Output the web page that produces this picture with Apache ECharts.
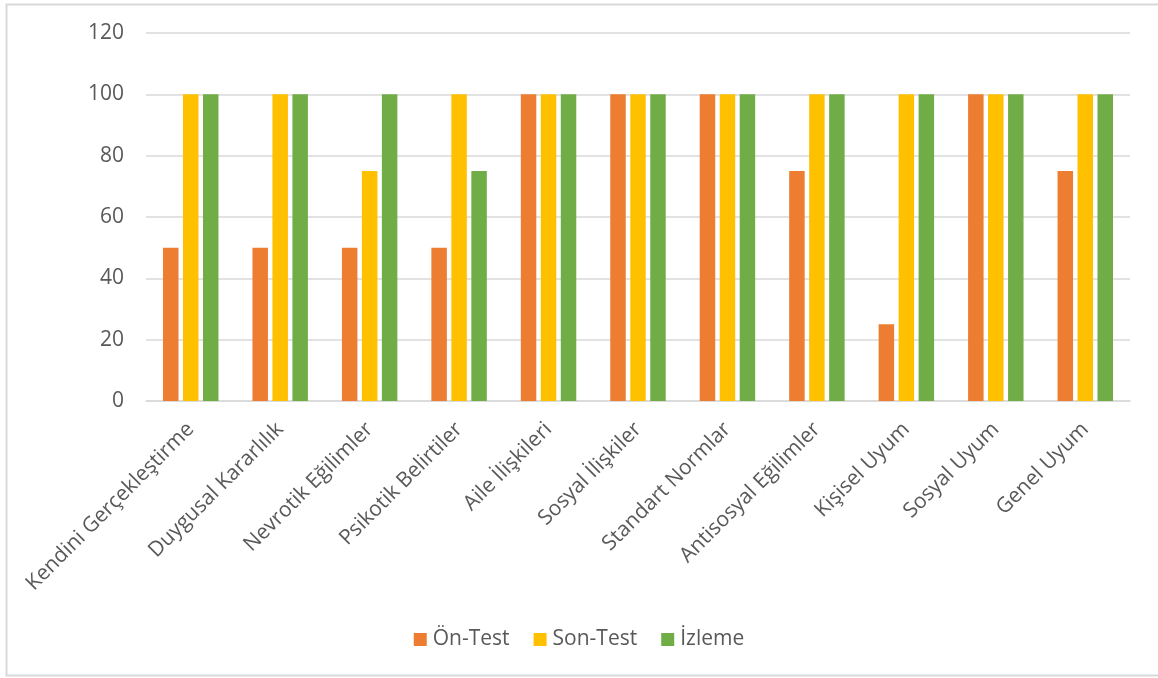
<!DOCTYPE html>
<html>
<head>
<meta charset="utf-8">
<script src="https://cdn.jsdelivr.net/npm/echarts@6/dist/echarts.min.js"></script>
<style>
  html, body { margin: 0; padding: 0; background: #ffffff; }
  #chart { width: 1158px; height: 678px; }
</style>
</head>
<body>
<div id="chart"></div>
<script>
// Scale dimensions (x axis)
const categories = [
  'Kendini Gerçekleştirme', 'Duygusal Kararlılık', 'Nevrotik Eğilimler',
  'Psikotik Belirtiler', 'Aile İlişkileri', 'Sosyal İlişkiler',
  'Standart Normlar', 'Antisosyal Eğilimler', 'Kişisel Uyum',
  'Sosyal Uyum', 'Genel Uyum'
];

// Scores per measurement
const onTest  = [50, 50, 50, 50, 100, 100, 100, 75, 25, 100, 75];
const sonTest = [100, 100, 75, 100, 100, 100, 100, 100, 100, 100, 100];
const izleme  = [100, 100, 100, 75, 100, 100, 100, 100, 100, 100, 100];

const seriesNames = ['Ön-Test', 'Son-Test', 'İzleme'];
const yTicks = [0, 20, 40, 60, 80, 100, 120];

const FONT = '"Open Sans", "DejaVu Sans", sans-serif';
const TEXT = '#595959';
const GRID = '#d9d9d9';

const chart = echarts.init(document.getElementById('chart'), null, { renderer: 'canvas' });

chart.setOption({
  animation: false,
  backgroundColor: '#ffffff',
  textStyle: { fontFamily: FONT },
  color: ['#ED7D31', '#FFC000', '#70AD47'],
  graphic: [{
    type: 'rect',
    silent: true,
    shape: { x: 6.5, y: 4.5, width: 1170, height: 671 },
    style: { fill: 'none', stroke: '#d9d9d9', lineWidth: 2 }
  }],
  grid: { left: 146, right: 28, top: 33, bottom: 277, containLabel: false },
  legend: {
    bottom: 23,
    left: 'center',
    itemWidth: 13,
    itemHeight: 13,
    itemGap: 24,
    icon: 'rect',
    textStyle: { color: TEXT, fontSize: 21, fontFamily: FONT, padding: [0, 0, 0, 1] },
    data: seriesNames
  },
  xAxis: {
    type: 'category',
    data: categories,
    axisLine: { show: true, lineStyle: { color: GRID, width: 1.5 } },
    axisTick: { show: false },
    axisLabel: {
      interval: 0,
      rotate: 45,
      margin: 25,
      color: TEXT,
      fontSize: 21,
      fontFamily: FONT
    }
  },
  yAxis: {
    type: 'value',
    min: yTicks[0],
    max: yTicks[yTicks.length - 1],
    interval: 20,
    axisLine: { show: false },
    axisTick: { show: false },
    splitLine: { lineStyle: { color: GRID, width: 1.5 } },
    axisLabel: { color: TEXT, fontSize: 21, fontFamily: FONT, margin: 22 }
  },
  series: [
    { name: seriesNames[0], type: 'bar', data: onTest,  barGap: '29%', barCategoryGap: '38%' },
    { name: seriesNames[1], type: 'bar', data: sonTest, barGap: '29%', barCategoryGap: '38%' },
    { name: seriesNames[2], type: 'bar', data: izleme,  barGap: '29%', barCategoryGap: '38%' }
  ]
});
</script>
</body>
</html>
